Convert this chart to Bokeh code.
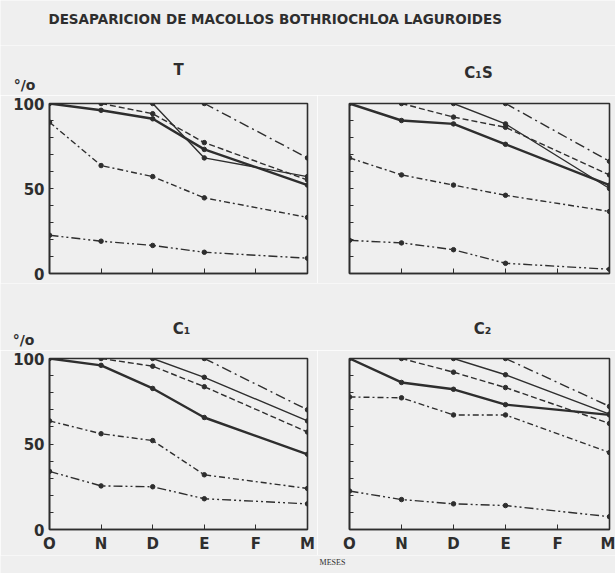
from bokeh.plotting import figure
from bokeh.layouts import column, row
from bokeh.models import Label, FixedTicker, Range1d
from bokeh.embed import file_html
from bokeh.resources import INLINE

# ---------------- data ----------------
month_labels = ["O", "N", "D", "E", "F", "M"]
main_title = "DESAPARICION DE MACOLLOS  BOTHRIOCHLOA LAGUROIDES"
panel_titles = ["T", "C\u2081S", "C\u2081", "C\u2082"]
y_unit = "\u00b0/o"
x_title = "MESES"

# month positions (index into month_labels) of each series
m_from_O = [0, 1, 2, 3, 5]
m_from_N = [1, 2, 3, 5]
m_from_D = [2, 3, 5]
m_from_E = [3, 5]

# Panel T
T_solid_thick = [100, 96, 91, 73, 52]
T_dashed = [100, 94, 77, 55]
T_solid_thin = [100, 68, 57]
T_dashdot = [100, 68]
T_dash_circ = [89, 63.5, 57, 44.5, 33]
T_dashdotdot = [22.5, 19, 16.5, 12.5, 9]

# Panel C1S
C1S_solid_thick = [100, 90, 88, 76, 52]
C1S_dashed = [100, 92, 86, 58]
C1S_solid_thin = [100, 88, 50]
C1S_dashdot = [100, 66]
C1S_dash_circ = [68, 58, 52, 46, 36.5]
C1S_dashdotdot = [19.5, 18, 14, 6, 2.5]

# Panel C1
C1_solid_thick = [100, 96, 82.5, 65.5, 44]
C1_dashed = [100, 95.5, 83.5, 57]
C1_solid_thin = [100, 89, 63.5]
C1_dashdot = [100, 70]
C1_dash_circ = [63.5, 56, 52, 32, 24]
C1_dashdotdot = [34, 25.5, 25, 18, 15]

# Panel C2
C2_solid_thick = [100, 86, 82, 73, 67]
C2_dashed = [100, 92, 83, 62]
C2_solid_thin = [100, 90.5, 67.5]
C2_dashdot = [100, 72]
C2_dash_circ = [77.5, 77, 67, 67, 45]
C2_dashdotdot = [22.5, 17.5, 15, 14, 7.5]

y_major = [0, 50, 100]
y_minor = [10, 20, 30, 40, 60, 70, 80, 90]

# ---------------- style ----------------
BG = "#efefef"
INK = "#2e2e2e"
FONT = "DejaVu Sans"
W = 615

styles = [
    dict(dash="solid", width=2.4),          # solid thick
    dict(dash="6 3", width=1.4),            # dashed
    dict(dash="solid", width=1.4),          # solid thin
    dict(dash="10 4 2 4", width=1.4),       # dash-dot
    dict(dash="6 3 2 3", width=1.4),        # dash with circles
    dict(dash="9 3 2 3 2 3", width=1.4),    # dash-dot-dot
]
month_sets = [m_from_O, m_from_N, m_from_D, m_from_E, m_from_O, m_from_O]


def make_panel(series, show_y, show_x, mb_left, mb_right, mb_top, mb_bottom, fw, fh):
    p = figure(frame_width=fw, frame_height=fh,
               x_range=Range1d(0, 5), y_range=Range1d(0, 100),
               output_backend="svg", toolbar_location=None,
               min_border_left=mb_left, min_border_right=mb_right,
               min_border_top=mb_top, min_border_bottom=mb_bottom,
               background_fill_color=BG, border_fill_color=BG)
    p.grid.visible = False
    p.outline_line_color = INK
    p.outline_line_width = 1.6

    for vals, months, st in zip(series, month_sets, styles):
        p.line(months, vals, line_color=INK, line_width=st["width"], line_dash=st["dash"])
        p.scatter(months, vals, size=4.5, color=INK)

    ya = p.yaxis[0]
    ya.ticker = FixedTicker(ticks=y_major, minor_ticks=y_minor)
    ya.major_tick_in = 4
    ya.major_tick_out = 0
    ya.minor_tick_in = 4
    ya.minor_tick_out = 0
    ya.axis_line_color = INK
    ya.axis_line_width = 1.6
    ya.major_tick_line_color = INK
    ya.minor_tick_line_color = INK
    ya.major_label_standoff = 5
    ya.major_label_text_font = FONT
    ya.major_label_text_font_size = "15px"
    ya.major_label_text_font_style = "bold"
    ya.major_label_text_color = INK
    if not show_y:
        ya.major_label_overrides = {t: "" for t in y_major}

    xa = p.xaxis[0]
    xa.ticker = FixedTicker(ticks=[0, 1, 2, 3, 4, 5])
    xa.major_tick_in = 5
    xa.major_tick_out = 0
    xa.axis_line_color = INK
    xa.axis_line_width = 1.6
    xa.major_tick_line_color = INK
    xa.major_label_standoff = 5
    xa.major_label_text_font = FONT
    xa.major_label_text_font_size = "15px"
    xa.major_label_text_font_style = "bold"
    xa.major_label_text_color = INK
    if show_x:
        xa.major_label_overrides = {i: m for i, m in enumerate(month_labels)}
    else:
        xa.major_label_overrides = {i: "" for i in range(6)}
    return p


def strip(h, labels):
    s = figure(frame_width=W, frame_height=h, x_range=Range1d(0, W), y_range=Range1d(h, 0),
               output_backend="svg", toolbar_location=None, min_border=0,
               background_fill_color=BG, border_fill_color=BG)
    s.axis.visible = False
    s.grid.visible = False
    s.outline_line_color = None
    for (x, y, text, size, font, style) in labels:
        s.add_layout(Label(x=x, y=y, text=text, text_align="center", text_baseline="middle",
                           text_font=font, text_font_size=size, text_font_style=style,
                           text_color=INK))
    return s


s_title = strip(45, [(277, 18.5, main_title, "13.5px", FONT, "bold")])
s_top = strip(50, [(24, 39, y_unit, "14px", FONT, "bold"),
                   (178, 24, panel_titles[0], "15px", FONT, "bold"),
                   (478, 27, panel_titles[1], "15px", FONT, "bold")])

p1 = make_panel([T_solid_thick, T_dashed, T_solid_thin, T_dashdot, T_dash_circ, T_dashdotdot],
                True, False, 49, 10, 8, 10, 258, 170)
p2 = make_panel([C1S_solid_thick, C1S_dashed, C1S_solid_thin, C1S_dashdot, C1S_dash_circ, C1S_dashdotdot],
                False, False, 32, 6, 8, 10, 260, 170)

s_mid = strip(67, [(23, 56, y_unit, "14px", FONT, "bold"),
                   (181, 45, panel_titles[2], "15px", FONT, "bold"),
                   (482, 45, panel_titles[3], "15px", FONT, "bold")])

p3 = make_panel([C1_solid_thick, C1_dashed, C1_solid_thin, C1_dashdot, C1_dash_circ, C1_dashdotdot],
                True, True, 49, 10, 8, 22, 258, 171)
p4 = make_panel([C2_solid_thick, C2_dashed, C2_solid_thin, C2_dashdot, C2_dash_circ, C2_dashdotdot],
                False, True, 32, 6, 8, 22, 260, 171)

s_bot = strip(20, [(332, 7, x_title, "8px", "Liberation Serif", "normal")])

layout = column(s_title, s_top, row(p1, p2), s_mid, row(p3, p4), s_bot)
open("out.html", "w").write(file_html(layout, INLINE))
